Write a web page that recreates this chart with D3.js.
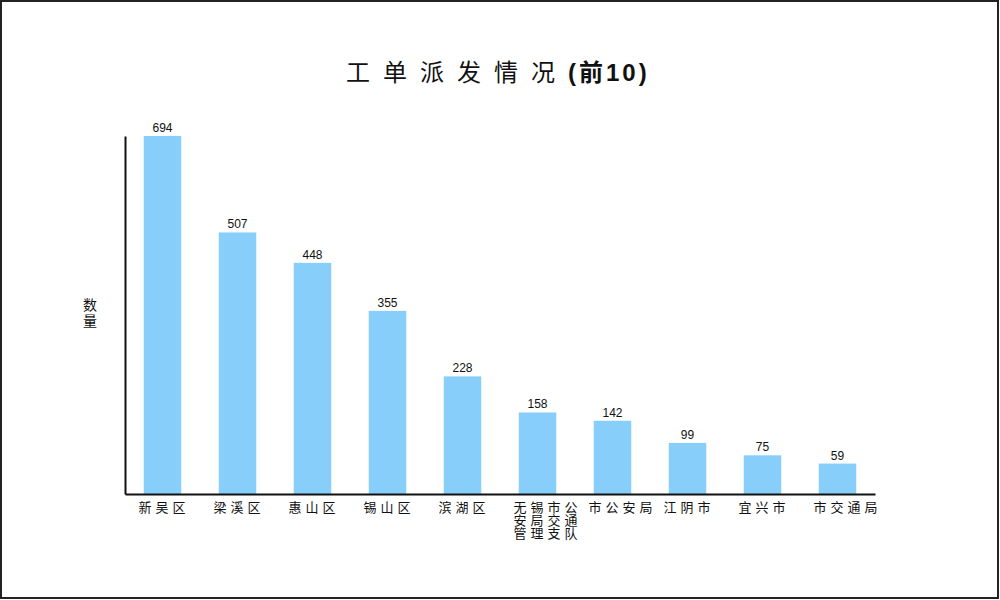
<!DOCTYPE html>
<html>
<head>
<meta charset="utf-8">
<script src="https://cdn.jsdelivr.net/npm/d3@7"></script>
<style>
  body { margin: 0; background: #fff; }
  svg { display: block; }
</style>
</head>
<body>
<svg id="chart" width="1000" height="600"></svg>
<script>
const categories = ["新吴区", "梁溪区", "惠山区", "锡山区", "滨湖区", "无锡市公安局交通管理支队", "市公安局", "江阴市", "宜兴市", "市交通局"];
const counts = [694, 507, 448, 355, 228, 158, 142, 99, 75, 59];
const titleMain = "工单派发情况";
const titleTail = "(前10)";
const yLabel = "数量";

const marginLeft = 125;
const marginTop = 136;
const plotWidth = 750;
const plotHeight = 358;

const svg = d3.select("#chart");

// frame
svg.append("rect")
  .attr("x", 1).attr("y", 1)
  .attr("width", 997).attr("height", 597)
  .attr("fill", "#fff")
  .attr("stroke", "#222")
  .attr("stroke-width", 2);

const xScale = d3.scaleBand()
  .domain(categories)
  .range([marginLeft, marginLeft + plotWidth])
  .paddingInner(0.5)
  .paddingOuter(0.25);

const yScale = d3.scaleLinear()
  .domain([0, d3.max(counts)])
  .range([marginTop + plotHeight, marginTop]);

// title
const title = svg.append("text")
  .attr("x", 346)
  .attr("y", 81)
  .attr("font-family", "'Noto Sans CJK SC', sans-serif")
  .attr("font-size", 24)
  .attr("fill", "#111");
title.append("tspan").attr("letter-spacing", 13).text(titleMain);
title.append("tspan")
  .attr("font-family", "'Liberation Sans', 'Noto Sans CJK SC', sans-serif")
  .attr("font-weight", "bold")
  .attr("letter-spacing", 3)
  .text(titleTail);

// bars
svg.selectAll(".bar")
  .data(counts)
  .enter()
  .append("rect")
  .attr("class", "bar")
  .attr("x", (d, i) => xScale(categories[i]))
  .attr("y", (d) => yScale(d))
  .attr("width", xScale.bandwidth())
  .attr("height", (d) => yScale(0) - yScale(d))
  .attr("fill", "#87CEFA");

// value labels
svg.selectAll(".valueLabel")
  .data(counts)
  .enter()
  .append("text")
  .attr("class", "valueLabel")
  .attr("x", (d, i) => xScale(categories[i]) + xScale.bandwidth() / 2)
  .attr("y", (d) => yScale(d) - 4)
  .attr("text-anchor", "middle")
  .attr("font-family", "'Liberation Sans', Arial, sans-serif")
  .attr("font-size", 12)
  .attr("fill", "#111")
  .text((d) => d);

// axes
const yAxis = svg.append("g")
  .attr("transform", `translate(${marginLeft},0)`)
  .call(d3.axisLeft(yScale).ticks(0).tickSize(0));
yAxis.select(".domain").attr("stroke", "#111").attr("stroke-width", 2);

const xAxis = svg.append("g")
  .attr("transform", `translate(0,${marginTop + plotHeight})`)
  .call(d3.axisBottom(xScale).tickSize(0).tickFormat(""));
xAxis.select(".domain").attr("stroke", "#111").attr("stroke-width", 2);

// category labels, wrapped, left aligned in a box round the bar centre
const perLine = 4;
const lineHeight = 13;
categories.forEach((c, i) => {
  const lines = [];
  for (let k = 0; k < c.length; k += perLine) lines.push(c.slice(k, k + perLine));
  const x0 = xScale(c) + xScale.bandwidth() / 2 - 24;
  const t = svg.append("text")
    .attr("font-family", "'Noto Sans CJK SC', sans-serif")
    .attr("font-size", 13)
    .attr("letter-spacing", 4)
    .attr("fill", "#111");
  lines.forEach((ln, j) => {
    t.append("tspan")
      .attr("x", x0)
      .attr("y", marginTop + plotHeight + 18 + j * lineHeight)
      .text(ln);
  });
});

// y axis label, written top to bottom
svg.append("text")
  .attr("x", 90)
  .attr("y", 298)
  .attr("writing-mode", "tb")
  .attr("letter-spacing", 2)
  .attr("font-family", "'Noto Sans CJK SC', sans-serif")
  .attr("font-size", 14)
  .attr("fill", "#111")
  .text(yLabel);
</script>
</body>
</html>
